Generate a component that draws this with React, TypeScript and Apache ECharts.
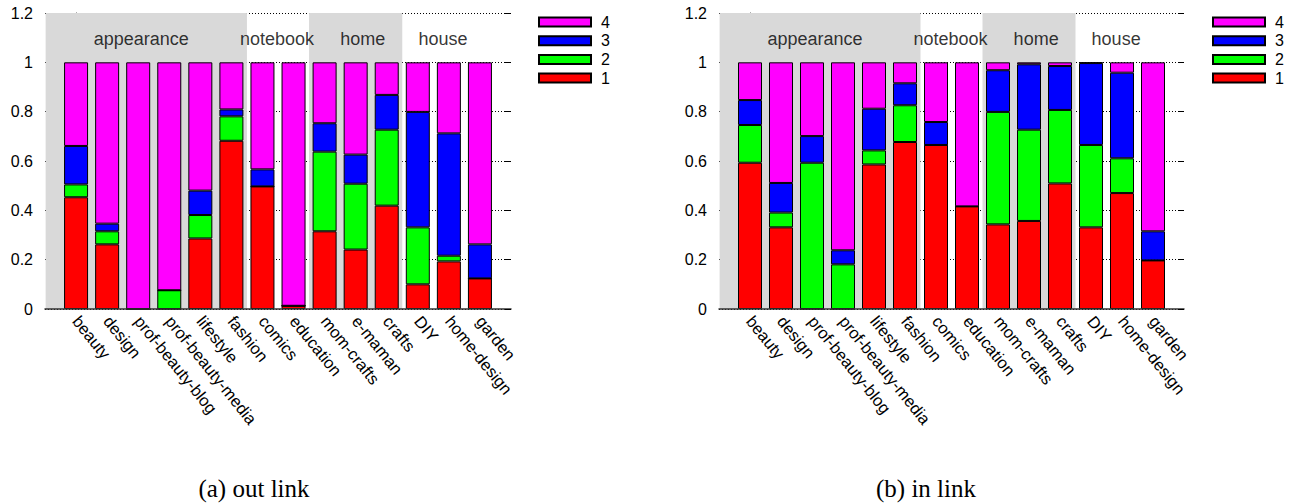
import React, { useEffect, useRef } from "react";
import * as echarts from "echarts";

const categories = [
  "beauty", "design", "prof-beauty-blog", "prof-beauty-media", "lifestyle", "fashion",
  "comics", "education", "mom-crafts", "e-maman", "crafts", "DIY", "home-design", "garden",
];

// (a) out link
const out1 = [0.453, 0.262, 0, 0, 0.286, 0.682, 0.497, 0.013, 0.315, 0.241, 0.419, 0.1, 0.193, 0.124];
const out2 = [0.052, 0.053, 0, 0.076, 0.095, 0.099, 0, 0, 0.323, 0.267, 0.308, 0.231, 0.023, 0];
const out3 = [0.156, 0.031, 0, 0, 0.099, 0.028, 0.069, 0, 0.115, 0.118, 0.141, 0.468, 0.496, 0.138];
const out4 = [0.339, 0.654, 1, 0.924, 0.52, 0.191, 0.434, 0.987, 0.247, 0.374, 0.132, 0.201, 0.288, 0.738];

// (b) in link
const in1 = [0.593, 0.331, 0, 0, 0.586, 0.677, 0.665, 0.416, 0.343, 0.357, 0.509, 0.331, 0.47, 0.197];
const in2 = [0.153, 0.06, 0.593, 0.181, 0.057, 0.149, 0, 0, 0.456, 0.37, 0.298, 0.334, 0.141, 0];
const in3 = [0.101, 0.12, 0.108, 0.057, 0.169, 0.089, 0.093, 0, 0.169, 0.265, 0.178, 0.332, 0.347, 0.118];
const in4 = [0.153, 0.489, 0.299, 0.762, 0.188, 0.085, 0.242, 0.584, 0.032, 0.008, 0.015, 0.003, 0.042, 0.685];

const seriesNames = ["1", "2", "3", "4"];
const legendOrder = ["4", "3", "2", "1"];
const colors = ["#ff0000", "#00ff00", "#0000ff", "#ff00ff"];

const groupNames = ["appearance", "notebook", "home", "house"];
// group spans in category-index units (boundaries between bars)
const groupSpans = [[-1, 5.5], [5.5, 7.5], [7.5, 10.5], [10.5, 14]];
const groupShaded = [true, false, true, false];
const groupLabelX = [2.1, 6.47, 9.23, 11.81];
const groupLabelY = 1.093;

const yTicksMax = 1.2;
const captions = ["(a) out link", "(b) in link"];

const FONT = "'Liberation Sans', Arial, Helvetica, sans-serif";

export default function App() {
  const ref = useRef<HTMLDivElement>(null);

  useEffect(() => {
    const chart = echarts.init(ref.current!, null, { renderer: "svg" });
    const panels = [
      { data: [out1, out2, out3, out4], left: 45, right: 1301 - 511 },
      { data: [in1, in2, in3, in4], left: 719, right: 1301 - 1184 },
    ];

    const grid: any[] = [];
    const xAxis: any[] = [];
    const yAxis: any[] = [];
    const series: any[] = [];
    const legend: any[] = [];
    const slots = ["__L", ...categories, "__R"];

    panels.forEach((p, gi) => {
      grid.push({ left: p.left, right: p.right, top: 13, bottom: 503 - 309, containLabel: false });
      const xValIdx = xAxis.length;
      xAxis.push({
        type: "value",
        gridIndex: gi,
        position: "bottom",
        min: -1,
        max: 14,
        interval: 1,
        z: 3,
        axisLine: { show: true, lineStyle: { color: "#333", width: 1.5 } },
        axisTick: { show: false },
        splitLine: { show: false },
        axisLabel: {
          rotate: -51,
          margin: 9,
          padding: [10, 0, 0, 0],
          fontSize: 16.5,
          fontFamily: FONT,
          color: "#000",
          formatter: (v: number) => categories[v] ?? "",
        },
      });
      const xCatIdx = xAxis.length;
      xAxis.push({
        type: "category",
        gridIndex: gi,
        position: "bottom",
        show: false,
        boundaryGap: false,
        data: slots,
      });
      const yIdx = yAxis.length;
      yAxis.push({
        type: "value",
        gridIndex: gi,
        min: 0,
        max: yTicksMax,
        interval: 0.2,
        position: "left",
        axisLine: { show: true, lineStyle: { color: "#333", width: 1 } },
        axisTick: { show: false },
        axisLabel: { fontSize: 16, fontFamily: FONT, color: "#000", margin: 12 },
        splitLine: { show: true, lineStyle: { color: "#000", type: [1, 2], width: 1 } },
      });
      yAxis.push({
        type: "value",
        gridIndex: gi,
        min: 0,
        max: yTicksMax,
        interval: 0.2,
        position: "right",
        z: 3,
        axisLine: { show: false },
        axisTick: { show: true, inside: true, length: 6, lineStyle: { color: "#000" } },
        axisLabel: { show: false },
        splitLine: { show: false },
      });
      seriesNames.forEach((name, si) => {
        series.push({
          name,
          type: "bar",
          xAxisIndex: xCatIdx,
          yAxisIndex: yIdx,
          stack: "s" + gi,
          barWidth: 24,
          itemStyle: { color: colors[si], borderColor: "#000", borderWidth: 1 },
          data: ["-", ...p.data[si], "-"],
          z: 2,
        });
      });
      // shaded group backgrounds + group names
      series.push({
        type: "scatter",
        name: "groups" + gi,
        xAxisIndex: xValIdx,
        yAxisIndex: yIdx,
        symbolSize: 0,
        silent: true,
        z: 4,
        label: {
          show: true,
          position: "inside",
          formatter: (q: any) => q.name,
          fontSize: 18,
          fontFamily: FONT,
          color: "#000",
        },
        data: groupNames.map((g, k) => ({ name: g, value: [groupLabelX[k], groupLabelY] })),
        markArea: {
          silent: true,
          itemStyle: { color: "#d9d9d9" },
          label: { show: false },
          data: groupSpans
            .map((sp, k) => ({ sp, k }))
            .filter((o) => groupShaded[o.k])
            .map((o) => [
              { xAxis: o.sp[0] === -1 ? -0.98 : o.sp[0], yAxis: 0 },
              { xAxis: o.sp[1], yAxis: yTicksMax },
            ]),
        },
      });
      legend.push({
        orient: "vertical",
        left: gi === 0 ? 538 : 1212,
        top: 14,
        padding: 0,
        data: legendOrder,
        icon: "rect",
        itemWidth: 52,
        itemHeight: 9,
        itemGap: 2.7,
        selectedMode: false,
        textStyle: { fontSize: 16, fontFamily: FONT, color: "#000", padding: [0, 0, 0, 5] },
      });
    });

    chart.setOption({
      animation: false,
      backgroundColor: "#fff",
      grid,
      xAxis,
      yAxis,
      legend,
      series,
      graphic: captions.map((c, i) => ({
        type: "text",
        x: i === 0 ? 254 : 926,
        y: 488,
        style: {
          text: c,
          fontSize: 25,
          fontFamily: "'Liberation Serif', 'Times New Roman', serif",
          fill: "#000",
          textAlign: "center",
          textVerticalAlign: "middle",
        },
      })),
    });
    return () => chart.dispose();
  }, []);

  return (
    <div
      ref={ref}
      style={{ position: "fixed", left: 0, top: 0, width: 1301, height: 503 }}
    />
  );
}
